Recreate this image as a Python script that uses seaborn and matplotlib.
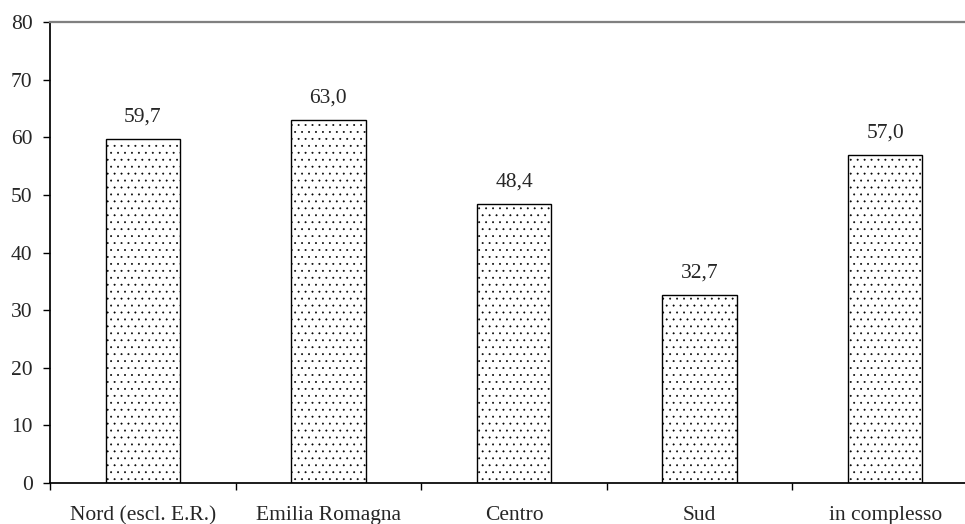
import matplotlib
matplotlib.use("Agg")
import matplotlib.pyplot as plt
import numpy as np
import pandas as pd
import seaborn as sns

categories = ["Nord (escl. E.R.)", "Emilia Romagna", "Centro", "Sud", "in complesso"]
values = [59.7, 63.0, 48.4, 32.7, 57.0]
yticks = [0, 10, 20, 30, 40, 50, 60, 70, 80]

df = pd.DataFrame({"area": categories, "valore": values})

sns.set_style("white")
plt.rcParams["font.family"] = ["Liberation Serif", "DejaVu Serif"]
plt.rcParams["hatch.linewidth"] = 0.3
plt.rcParams["hatch.color"] = "black"

DPI = 125
fs = 12.4

fig = plt.figure(figsize=(965 / DPI, 524 / DPI), dpi=DPI)
ax = fig.add_axes([50 / 965, 1 - 483 / 524, 928 / 965, 461 / 524])

sns.barplot(data=df, x="area", y="valore", ax=ax, width=0.4,
            color="white", edgecolor="black", linewidth=0.8, saturation=1)
for p in ax.patches:
    p.set_hatch("...")

labels = [f"{v:.1f}".replace(".", ",") for v in values]
ax.bar_label(ax.containers[0], labels=labels, padding=7, fontsize=fs)

ax.set_ylim(0, 80)
ax.set_xlim(-0.5, len(categories) - 0.5)
ax.set_yticks(yticks)
ax.set_xlabel("")
ax.set_ylabel("")

# tick marks sit between categories, labels in the middle
ax.set_xticks(np.arange(-0.5, len(categories), 1.0), minor=True)
ax.tick_params(axis="x", which="major", length=0, pad=13.5, labelsize=fs)
ax.tick_params(axis="x", which="minor", length=4, width=0.8, direction="out", color="black")
ax.tick_params(axis="y", length=4, width=0.8, direction="out", color="black", labelsize=fs, pad=6)
ax.tick_params(left=True, bottom=True)
ax.xaxis.set_ticks_position("bottom")
ax.yaxis.set_ticks_position("left")

for s in ["left", "bottom"]:
    ax.spines[s].set_color("black")
    ax.spines[s].set_linewidth(1.0)
ax.spines["top"].set_color("#808080")
ax.spines["top"].set_linewidth(1.3)
ax.spines["right"].set_visible(False)

fig.savefig("out.png", dpi=DPI)
